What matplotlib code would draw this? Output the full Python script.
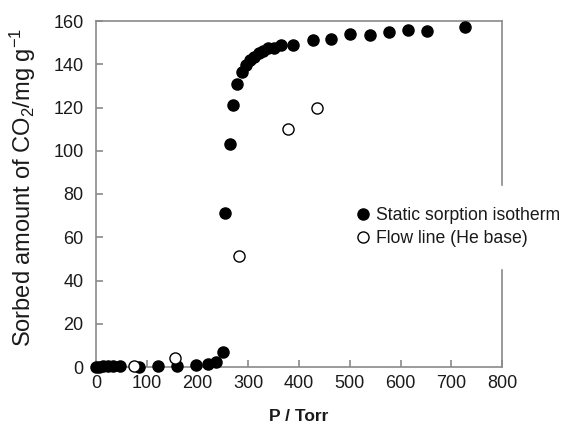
import matplotlib
matplotlib.use('Agg')
import matplotlib.pyplot as plt

plt.rcParams['font.family'] = ['Liberation Sans', 'DejaVu Sans']
plt.rcParams['mathtext.fontset'] = 'custom'
plt.rcParams['mathtext.rm'] = 'Liberation Sans'
plt.rcParams['mathtext.it'] = 'Liberation Sans:italic'

# static sorption isotherm (filled)
static_p = [0, 5, 14, 24, 34, 47, 85, 122, 160, 197, 221, 237, 250, 254, 264,
            270, 278, 287, 295, 304, 312, 321, 329, 338, 350, 364, 388, 427,
            464, 501, 539, 577, 614, 652, 728]
static_q = [0, 0.1, 0.3, 0.5, 0.5, 0.6, 0.2, 0.3, 0.5, 1.0, 1.5, 2.5, 7, 71, 103,
            121, 131, 136.5, 139.5, 142, 143.5, 145, 146, 147.5, 147.5, 149, 149, 151,
            151.5, 154, 153.5, 155, 156, 155.5, 157]

# flow line (He base) (open)
flow_p = [75, 155, 281, 378, 435]
flow_q = [0.5, 4, 51.5, 110, 120]

fig = plt.figure(figsize=(5.67, 4.25), dpi=100)
ax = fig.add_axes([96/567, 1 - 367/425, 406/567, 346/425])

ax.plot(static_p, static_q, 'o', ms=8, color='black', mec='black',
        label='Static sorption isotherm', clip_on=False, zorder=3)
ax.plot(flow_p, flow_q, 'o', ms=8, mfc='white', mec='black', mew=1.0,
        label='Flow line (He base)', clip_on=False, zorder=3)

ax.set_xlim(0, 800)
ax.set_ylim(0, 160)
ax.set_xticks(range(0, 801, 100))
ax.set_yticks(range(0, 161, 20))

for s in ax.spines.values():
    s.set_color('#8a8a8a')
    s.set_linewidth(1.2)
ax.tick_params(direction='in', length=5, color='#8a8a8a', width=1.2,
               labelsize=13, labelcolor='#1a1a1a')
ax.tick_params(axis='x', pad=6)
ax.tick_params(axis='y', pad=9)

ax.set_xlabel('P / Torr', fontsize=12.5, fontweight='bold', color='#1a1a1a', labelpad=12)
ax.set_ylabel(r'Sorbed amount of CO$_2$/mg g$^{-1}$', fontsize=17, color='#1a1a1a')
ax.yaxis.set_label_coords(-0.143, 0.519)

leg = ax.legend(loc='center left', bbox_to_anchor=(0.58, 0.405), frameon=True,
                fontsize=12.7, handletextpad=0.1, borderaxespad=0, labelspacing=0.35,
                handlelength=1.2, borderpad=1.2, markerscale=1.0)
leg.get_frame().set_edgecolor('white')
leg.get_frame().set_facecolor('white')
leg.get_frame().set_alpha(1)
for t in leg.get_texts():
    t.set_color('#1a1a1a')

fig.savefig('out.png', dpi=100)
